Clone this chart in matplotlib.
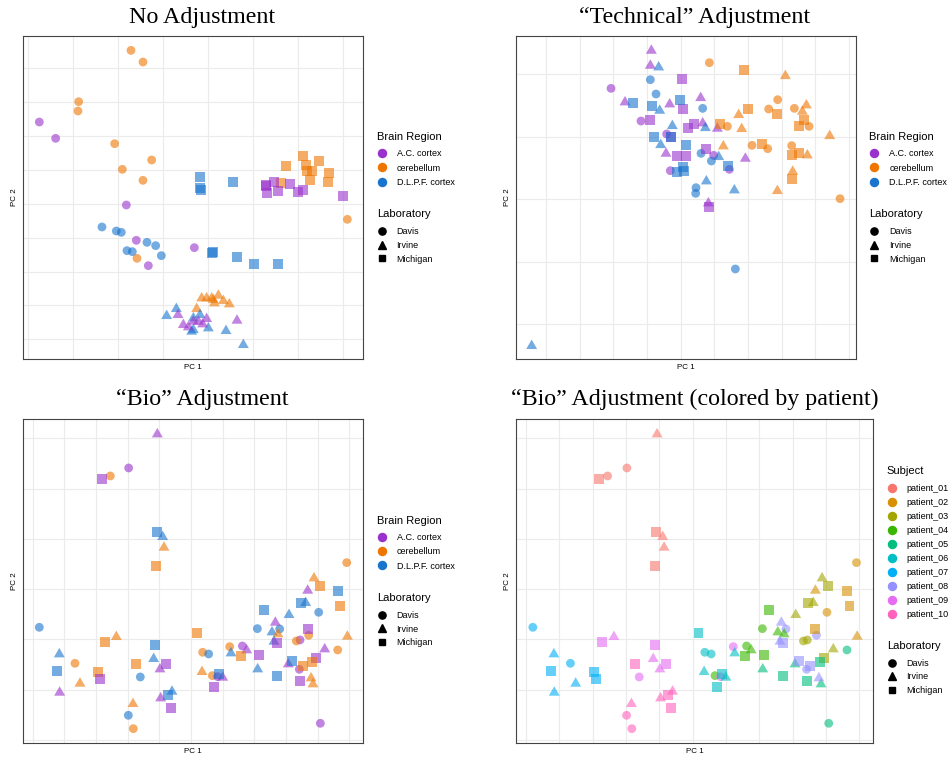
import numpy as np
import matplotlib
matplotlib.use('Agg')
import matplotlib.pyplot as plt
from matplotlib.lines import Line2D

plt.rcParams['font.family'] = ['Liberation Sans', 'DejaVu Sans']

# ---- categories ----
region_codes = ['ac', 'cb', 'dl']
region_names = ['A.C. cortex', 'cerebellum', 'D.L.P.F. cortex']
region_colors = ['#9932CC', '#EE7600', '#1874CD']
lab_codes = ['d', 'i', 'm']
lab_names = ['Davis', 'Irvine', 'Michigan']
patient_names = ['patient_%02d' % i for i in range(1, 11)]
patient_colors = ['#F8766D', '#D89000', '#A3A500', '#39B600', '#00BF7D',
                  '#00BFC4', '#00B0F6', '#9590FF', '#E76BF3', '#FF62BC']

# ---- No Adjustment ----
raw_pc1 = [
    33.3, 36.9, 17.6, 17.4, 28.4, 39.5, 30.7, 36.9, 35.1, 98.2,   # Davis cb
    5.8, 10.7, 31.9, 34.9, 38.5, 52.3,                             # Davis ac
    24.6, 28.9, 30.4, 38.1, 40.7, 32.1, 33.7, 42.4,                # Davis dl
    54.0, 54.0, 54.3, 63.8, 57.8, 57.6, 65.1, 70.2, 77.3,          # Michigan dl
    84.9, 79.7, 85.7, 89.7, 87.5, 86.0, 92.6, 86.9, 92.4, 78.4,    # Michigan cb
    73.7, 73.9, 74.1, 76.2, 77.3, 81.0, 83.4, 84.8, 96.8,          # Michigan ac
    54.5, 56.0, 57.5, 59.5, 61.0, 62.8, 58.3, 58.0, 53.0,          # Irvine cb
    44.0, 46.9, 54.0, 52.0, 56.5, 61.8, 67.0, 52.0, 51.5,          # Irvine dl
    47.4, 49.0, 50.5, 52.0, 54.8, 56.0, 65.1, 53.5,                # Irvine ac
]
raw_pc2 = [
    93.9, 90.4, 78.5, 75.7, 65.9, 61.0, 58.2, 54.9, 31.5, 43.2,
    72.4, 67.5, 47.5, 36.9, 29.3, 34.7,
    40.9, 39.7, 39.3, 36.3, 35.3, 33.8, 33.5, 32.3,
    56.0, 52.5, 52.0, 54.5, 33.4, 33.2, 31.9, 29.8, 29.8,
    62.2, 59.3, 59.5, 60.7, 57.7, 57.7, 57.2, 54.9, 54.4, 54.2,
    53.3, 53.5, 51.0, 54.5, 51.7, 53.8, 51.5, 52.0, 50.3,
    20.0, 20.0, 20.0, 20.8, 19.2, 18.2, 18.5, 19.5, 16.8,
    14.7, 16.8, 15.0, 14.0, 11.0, 10.2, 6.0, 10.5, 10.0,
    15.0, 12.0, 11.3, 13.0, 12.2, 13.8, 13.3, 13.0,
]
raw_region = (['cb'] * 10 + ['ac'] * 6 + ['dl'] * 8 + ['dl'] * 9 + ['cb'] * 10
              + ['ac'] * 9 + ['cb'] * 9 + ['dl'] * 9 + ['ac'] * 8)
raw_lab = ['d'] * 24 + ['m'] * 28 + ['i'] * 26

# ---- "Technical" Adjustment ----
tech_pc1 = [
    30.3, 39.3, 47.0, 48.1, 61.1, 65.8,                            # Davis ac
    42.1, 43.8, 57.8, 57.3, 60.4, 55.8, 55.7, 67.6,                # Davis dl
    59.8, 80.3, 77.6, 85.3, 65.2, 89.7, 72.6, 77.3, 84.5, 99.0,    # Davis cb
    42.4, 42.1, 34.5, 47.9, 57.2, 57.8, 46.8, 62.2, 70.6, 59.5,    # Irvine ac
    44.6, 44.9, 48.7, 58.6, 45.2, 62.6, 58.9, 67.3, 6.5,           # Irvine dl
    82.6, 88.9, 87.7, 68.6, 69.5, 95.9, 64.0, 89.2, 84.8, 80.2,    # Irvine cb
    51.6, 52.0, 42.0, 55.3, 53.4, 48.4, 58.9, 50.0, 52.8, 59.7,    # Michigan ac
    36.9, 42.6, 51.0, 43.2, 52.8, 51.9, 50.0, 52.2, 65.4, 48.4,    # Michigan dl
    70.2, 71.3, 80.0, 88.2, 86.8, 63.0, 75.6, 84.5, 86.7, 84.6,    # Michigan cb
]
tech_pc2 = [
    82.5, 72.7, 68.8, 57.8, 62.4, 58.2,
    85.1, 80.8, 76.5, 63.0, 60.7, 52.7, 51.0, 28.3,
    90.2, 79.1, 76.3, 76.5, 71.1, 71.1, 65.4, 64.4, 65.3, 49.4,
    94.3, 89.8, 78.8, 78.2, 80.1, 72.5, 63.4, 70.9, 61.9, 48.5,
    89.3, 76.3, 71.7, 71.1, 66.0, 62.4, 55.1, 52.4, 5.7,
    86.7, 77.9, 76.0, 75.0, 70.8, 68.7, 65.6, 62.9, 58.0, 52.2,
    85.3, 76.2, 73.0, 71.8, 70.6, 67.9, 64.2, 62.2, 62.2, 46.8,
    78.2, 77.3, 79.0, 67.8, 65.6, 59.0, 57.5, 57.8, 59.1, 68.0,
    88.1, 76.3, 74.8, 73.0, 71.2, 71.8, 65.9, 62.5, 63.0, 55.2,
]
tech_region = (['ac'] * 6 + ['dl'] * 8 + ['cb'] * 10 + ['ac'] * 10 + ['dl'] * 9
               + ['cb'] * 10 + ['ac'] * 10 + ['dl'] * 10 + ['cb'] * 10)
tech_lab = ['d'] * 24 + ['i'] * 29 + ['m'] * 30

# ---- "Bio" Adjustment (also used for the patient panel) ----
bio_pc1 = [
    41.2, 32.6, 27.1, 24.6, 41.0, 42.8, 43.2, 40.7,          # patient_01
    98.0, 86.3, 95.3, 96.0, 89.6, 86.3, 98.2,                # patient_02
    88.2, 90.0, 84.3, 85.7, 80.7, 84.0, 82.9, 91.4, 88.7,    # patient_03
    73.1, 71.2, 75.6, 77.4, 66.7, 68.0, 66.2, 71.6, 57.7,    # patient_04
    95.3, 80.5, 87.6, 71.3, 77.0, 84.0, 87.9, 90.1,          # patient_05
    53.0, 54.8, 56.6, 63.3, 54.6, 59.8, 60.8, 58.2,          # patient_06
    5.8, 11.8, 11.0, 11.9, 16.5, 18.0, 23.3, 23.9,           # patient_07
    76.6, 77.9, 76.2, 77.0, 86.6, 81.6, 84.8, 83.8, 87.3,    # patient_08
    25.5, 28.9, 40.5, 40.1, 43.7, 42.0, 36.1, 62.9, 59.3,    # patient_09
    34.8, 33.9, 32.5, 34.0, 42.2, 44.3, 45.6, 45.2,          # patient_10
]
bio_pc2 = [
    93.2, 82.6, 80.2, 79.4, 63.4, 62.4, 59.2, 53.3,
    54.2, 46.3, 45.7, 41.2, 39.3, 34.2, 32.5,
    50.0, 47.3, 42.2, 42.6, 39.0, 31.0, 30.7, 28.7, 25.7,
    40.0, 34.4, 33.8, 33.2, 29.2, 28.4, 26.2, 26.6, 20.3,
    28.0, 24.2, 24.5, 22.7, 20.3, 18.8, 18.2, 6.0,
    33.2, 27.3, 26.8, 27.5, 21.9, 20.7, 20.2, 17.0,
    34.8, 27.2, 21.7, 15.7, 24.0, 18.4, 21.4, 19.4,
    36.7, 34.3, 31.0, 30.0, 32.4, 24.8, 23.3, 22.2, 20.0,
    30.4, 32.4, 29.5, 25.8, 23.8, 22.7, 19.9, 29.0, 20.0,
    23.8, 12.3, 8.4, 4.4, 14.0, 14.5, 16.0, 10.7,
]
bio_region = [
    'ac', 'ac', 'cb', 'ac', 'dl', 'dl', 'cb', 'cb',
    'cb', 'ac', 'dl', 'cb', 'dl', 'ac', 'cb',
    'cb', 'cb', 'dl', 'dl', 'dl', 'ac', 'cb', 'ac', 'ac',
    'dl', 'dl', 'dl', 'cb', 'ac', 'ac', 'cb', 'ac', 'cb',
    'cb', 'ac', 'cb', 'dl', 'dl', 'ac', 'cb', 'ac',
    'cb', 'cb', 'dl', 'dl', 'cb', 'dl', 'ac', 'ac',
    'dl', 'dl', 'dl', 'ac', 'cb', 'cb', 'cb', 'ac',
    'ac', 'dl', 'dl', 'ac', 'cb', 'dl', 'cb', 'ac', 'cb',
    'cb', 'cb', 'dl', 'dl', 'ac', 'ac', 'dl', 'cb', 'ac',
    'cb', 'cb', 'dl', 'cb', 'ac', 'dl', 'dl', 'ac',
]
bio_lab = [
    'i', 'd', 'd', 'm', 'm', 'i', 'i', 'm',
    'd', 'i', 'm', 'm', 'd', 'm', 'i',
    'i', 'm', 'm', 'i', 'i', 'd', 'd', 'i', 'm',
    'm', 'd', 'i', 'i', 'd', 'i', 'm', 'm', 'd',
    'd', 'i', 'm', 'i', 'm', 'm', 'i', 'd',
    'm', 'd', 'd', 'i', 'i', 'm', 'i', 'm',
    'd', 'i', 'm', 'i', 'd', 'i', 'm', 'm',
    'i', 'd', 'i', 'm', 'd', 'm', 'm', 'd', 'i',
    'm', 'i', 'm', 'i', 'm', 'i', 'd', 'd', 'd',
    'm', 'i', 'd', 'd', 'i', 'm', 'i', 'm',
]
bio_patient = ([1] * 8 + [2] * 7 + [3] * 9 + [4] * 9 + [5] * 8
               + [6] * 8 + [7] * 8 + [8] * 9 + [9] * 9 + [10] * 8)

# ---- drawing ----
W, H = 953, 758
fig = plt.figure(figsize=(W / 100, H / 100), dpi=100)

tri = [(-1, -0.866), (1, -0.866), (0, 0.866)]
lab_markers = {'d': ('o', 40), 'i': (tri, 62), 'm': ('s', 50)}


def px_axes(left, top, right, bottom):
    return fig.add_axes([left / W, 1 - bottom / H, (right - left) / W, (bottom - top) / H])


def style_panel(ax, xlim, ylim, xgrid, ygrid):
    ax.set_xlim(xlim)
    ax.set_ylim(ylim)
    ax.set_xticks(xgrid)
    ax.set_yticks(ygrid)
    ax.tick_params(length=0, labelbottom=False, labelleft=False)
    ax.grid(True, color='#ebebeb', linewidth=0.8)
    ax.set_axisbelow(True)
    for sp in ax.spines.values():
        sp.set_color('#444444')
        sp.set_linewidth(0.8)
    ax.set_xlabel('PC 1', fontsize=5.8, labelpad=3.5)
    ax.set_ylabel('PC 2', fontsize=5.8, labelpad=3.5)


def draw_points(ax, pc1, pc2, labs, colors):
    pc1, pc2 = np.asarray(pc1), np.asarray(pc2)
    labs, colors = np.asarray(labs), np.asarray(colors)
    for code in lab_codes:
        m = labs == code
        marker, size = lab_markers[code]
        ax.scatter(pc1[m], pc2[m], c=list(colors[m]), marker=marker, s=size,
                   alpha=0.6, linewidths=0, zorder=3)


def legend_at(handles, labels, title, left, title_y, first_y, spacing=0.55):
    # title drawn separately so the gap below it can match the reference
    fig.text(left / W, 1 - (title_y + 4) / H, title, fontsize=8, ha='left', va='baseline')
    fig.legend(handles, labels, loc='upper left',
               bbox_to_anchor=(left / W, 1 - (first_y - 5.2) / H), bbox_transform=fig.transFigure,
               frameon=False, fontsize=6.5, handlelength=1.1, handletextpad=1.1,
               labelspacing=spacing, borderpad=0, borderaxespad=0)


def color_handles(colors):
    return [Line2D([], [], marker='o', linestyle='', color=c, markersize=5.8) for c in colors]


lab_handles = [Line2D([], [], marker='o', linestyle='', color='black', markersize=5.2),
               Line2D([], [], marker='^', linestyle='', color='black', markersize=5.4),
               Line2D([], [], marker='s', linestyle='', color='black', markersize=4.8)]


def region_colors_of(regions):
    return [region_colors[region_codes.index(r)] for r in regions]


def title_at(text, xc, baseline):
    fig.text(xc / W, 1 - baseline / H, text, ha='center', va='baseline',
             fontsize=17.3, family='Liberation Serif')


# panel 1
ax1 = px_axes(23.3, 35.7, 362.7, 359.3)
style_panel(ax1, (1.0, 102.8), (1.2, 98.3), np.arange(2.3, 102, 13.5), np.arange(7.2, 98, 10.16))
draw_points(ax1, raw_pc1, raw_pc2, raw_lab, region_colors_of(raw_region))
title_at('No Adjustment', 202, 23.5)
legend_at(color_handles(region_colors), region_names, 'Brain Region', 376.7, 136, 154.3, 0.6)
legend_at(lab_handles, lab_names, 'Laboratory', 376.7, 213.3, 232.7, 0.5)

# panel 2
ax2 = px_axes(516, 35.7, 855.7, 359.3)
style_panel(ax2, (1.8, 103.7), (1.2, 98.3), np.arange(10.8, 103, 10.1), np.arange(11.7, 98, 18.75))
draw_points(ax2, tech_pc1, tech_pc2, tech_lab, region_colors_of(tech_region))
title_at('\u201cTechnical\u201d Adjustment', 695, 23.5)
legend_at(color_handles(region_colors), region_names, 'Brain Region', 869.4, 136, 154.3, 0.6)
legend_at(lab_handles, lab_names, 'Laboratory', 869.4, 213.3, 232.7, 0.5)

# panel 3
ax3 = px_axes(23.3, 419.3, 362.7, 743.3)
style_panel(ax3, (1.0, 102.8), (0.0, 97.2), np.arange(3.8, 102, 9.5), np.arange(1.0, 97, 15.08))
draw_points(ax3, bio_pc1, bio_pc2, bio_lab, region_colors_of(bio_region))
title_at('\u201cBio\u201d Adjustment', 202, 405)
legend_at(color_handles(region_colors), region_names, 'Brain Region', 376.7, 519.6, 537.9, 0.6)
legend_at(lab_handles, lab_names, 'Laboratory', 376.7, 596.9, 616.3, 0.5)

# panel 4
ax4 = px_axes(516, 419.3, 873.3, 743.3)
style_panel(ax4, (1.0, 102.8), (0.0, 97.2), np.arange(3.8, 102, 9.5), np.arange(1.0, 97, 15.08))
draw_points(ax4, bio_pc1, bio_pc2, bio_lab, [patient_colors[p - 1] for p in bio_patient])
title_at('\u201cBio\u201d Adjustment (colored by patient)', 694.5, 405)
legend_at(color_handles(patient_colors), patient_names, 'Subject', 886.7, 470, 489.3, 0.55)
legend_at(lab_handles, lab_names, 'Laboratory', 886.7, 645, 664, 0.5)

fig.savefig('out.png', dpi=100)
